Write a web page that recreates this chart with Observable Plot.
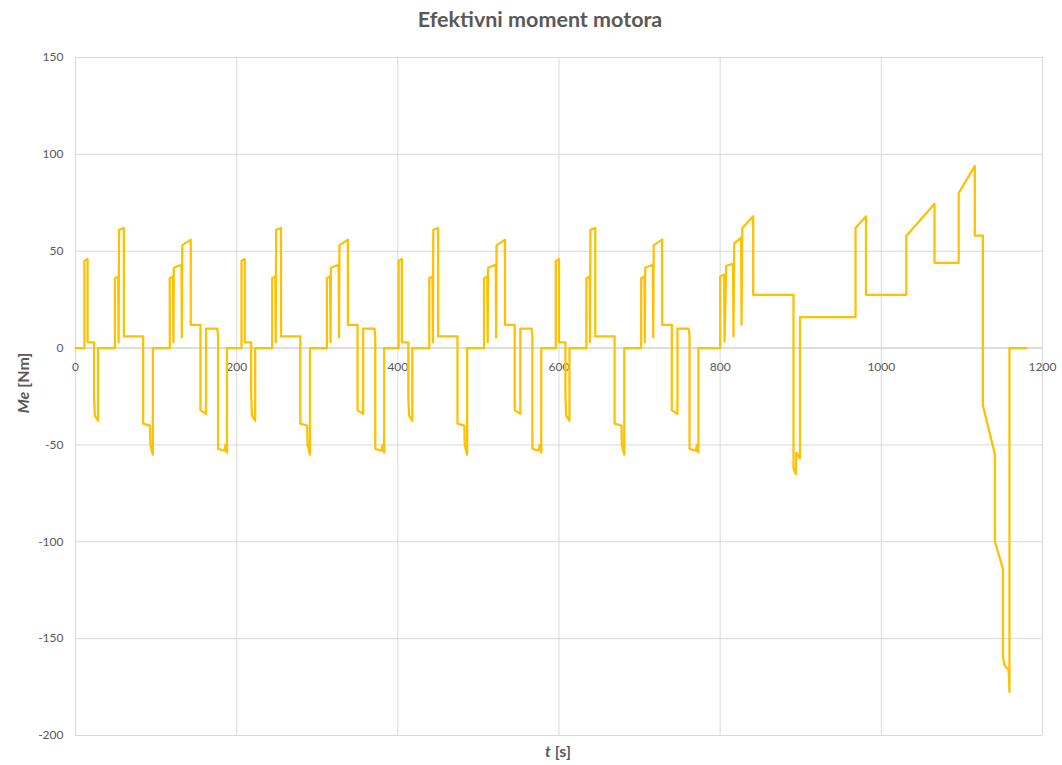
<!DOCTYPE html>
<html>
<head>
<meta charset="utf-8">
<script src="https://cdn.jsdelivr.net/npm/d3@7"></script>
<script src="https://cdn.jsdelivr.net/npm/@observablehq/plot@0.6"></script>
<style>
  html, body { margin: 0; padding: 0; background: #fff; }
  #wrap { position: relative; width: 1062px; height: 765px; font-family: Lato, "Open Sans", sans-serif; color: #595959; }
  #title { position: absolute; left: 0; width: 1080px; top: 6px; text-align: center; font-size: 21.5px; font-weight: bold; }
  #ylab { position: absolute; left: 22px; top: 383px; transform: translate(-50%, -50%) rotate(-90deg); font-size: 16px; font-weight: bold; white-space: nowrap; }
  #xlab { position: absolute; left: 558px; top: 750px; transform: translate(-50%, -50%); font-size: 16px; font-weight: bold; white-space: nowrap; }
  svg { position: absolute; left: 0; top: 0; }
</style>
</head>
<body>
<div id="wrap">
  <div id="title">Efektivni moment motora</div>
  <div id="ylab"><i>Me</i> [Nm]</div>
  <div id="xlab"><i>t</i> [s]</div>
</div>
<script>
// [t (s), Me (Nm)]
const ece1 = [[0,0],[11,0],[11,45],[15,46],[15,3],[23,3],[23,-25],[24,-35],[28,-37.5],[28,0],[49,0],[49,36],[53,37],[53.5,3],[54,61],[60,62],[60,6],[84,6],[84,-39],[92.5,-40],[93,-50],[96,-55],[96,0],[117,0],[117,36],[121,37],[121.5,3],[122,41.5],[131.5,43],[132,5.5],[132.5,53],[143,56],[143,12],[155,12],[155,-32],[162,-34],[162,10],[176,10],[177,6],[177,-52],[185,-53],[186,-50],[188,-54],[188,0]];
const ece2 = [[195,0],[206,0],[206,45],[210,46],[210,3],[218,3],[218,-25],[219,-35],[223,-37.5],[223,0],[244,0],[244,36],[248,37],[248.5,3],[249,61],[255,62],[255,6],[279,6],[279,-39],[287.5,-40],[288,-50],[291,-55],[291,0],[312,0],[312,36],[316,37],[316.5,3],[317,41.5],[326.5,43],[327,5.5],[327.5,53],[338,56],[338,12],[350,12],[350,-32],[357,-34],[357,10],[371,10],[372,6],[372,-52],[380,-53],[381,-50],[383,-54],[383,0]];
const ece3 = [[390,0],[401,0],[401,45],[405,46],[405,3],[413,3],[413,-25],[414,-35],[418,-37.5],[418,0],[439,0],[439,36],[443,37],[443.5,3],[444,61],[450,62],[450,6],[474,6],[474,-39],[482.5,-40],[483,-50],[486,-55],[486,0],[507,0],[507,36],[511,37],[511.5,3],[512,41.5],[521.5,43],[522,5.5],[522.5,53],[533,56],[533,12],[545,12],[545,-32],[552,-34],[552,10],[566,10],[567,6],[567,-52],[575,-53],[576,-50],[578,-54],[578,0]];
const ece4 = [[585,0],[596,0],[596,45],[600,46],[600,3],[608,3],[608,-25],[609,-35],[613,-37.5],[613,0],[634,0],[634,36],[638,37],[638.5,3],[639,61],[645,62],[645,6],[669,6],[669,-39],[677.5,-40],[678,-50],[681,-55],[681,0],[702,0],[702,36],[706,37],[706.5,3],[707,41.5],[716.5,43],[717,5.5],[717.5,53],[728,56],[728,12],[740,12],[740,-32],[747,-34],[747,10],[761,10],[762,6],[762,-52],[770,-53],[771,-50],[773,-54],[773,0]];
const eudc = [[780,0],[800,0],[800,37],[805,38],[805.5,3.5],[807.5,42.5],[816,43.5],[816.5,6],[817.5,54],[826,57],[826.5,12],[827.5,62],[841,68],[841,27.5],[891,27.5],[891,-62],[894,-65],[894.5,-54],[899,-57],[899,16],[968,16],[968,62],[981,68],[981,27.5],[1031,27.5],[1031,58],[1046,65],[1066,74.5],[1066,44],[1096,44],[1096,80],[1116,94],[1116,58],[1126,58],[1126,-29.5],[1141,-55],[1141,-100],[1151,-114],[1151,-159.5],[1153,-164],[1158,-166],[1159,-177.5],[1159,0],[1180,0]];

const xTicks = [0, 200, 400, 600, 800, 1000, 1200];
const yTicks = [-200, -150, -100, -50, 0, 50, 100, 150];

const data = [...ece1, ...ece2, ...ece3, ...ece4, ...eudc].map(([t, me]) => ({t, me}));

const chart = Plot.plot({
  width: 1062,
  height: 765,
  marginTop: 57,
  marginBottom: 30,
  marginLeft: 75,
  marginRight: 20,
  style: {fontFamily: "Lato, 'Open Sans', sans-serif", fontSize: "12px", color: "#595959", background: "transparent"},
  x: {domain: [0, 1200], axis: null},
  y: {domain: [-200, 150], axis: null},
  marks: [
    Plot.ruleX(xTicks, {x: d => d, stroke: "#d9d9d9", strokeWidth: 1}),
    Plot.ruleY(yTicks, {y: d => d, stroke: "#d9d9d9", strokeWidth: 1}),
    Plot.ruleY([0], {stroke: "#d0d0d0", strokeWidth: 1}),
    Plot.axisY({ticks: yTicks, tickSize: 0, tickPadding: 12, label: null, tickFormat: d => String(d), fill: "#595959"}),
    Plot.text(xTicks, {x: d => d, y: 0, dy: 19, text: d => String(d), fill: "#595959", fontSize: 12}),
    Plot.line(data, {x: "t", y: "me", stroke: "#FFC000", strokeWidth: 2.25, strokeLinejoin: "round"})
  ]
});
document.getElementById("wrap").prepend(chart);
</script>
</body>
</html>
